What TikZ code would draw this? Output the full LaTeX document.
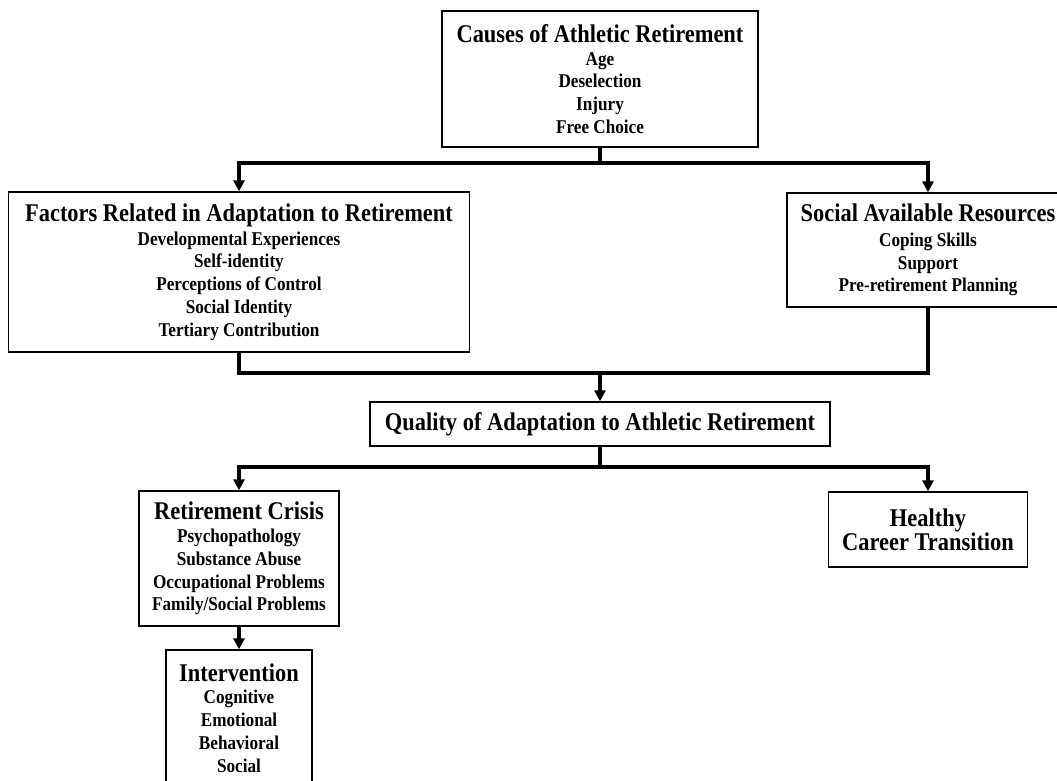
\documentclass[tikz,border=0pt]{standalone}
\usepackage{fontspec}
\setmainfont{Liberation Serif}[FakeStretch=0.88]
\usetikzlibrary{arrows.meta}
\newcommand{\hd}[1]{{\fontsize{25.5}{22.8}\selectfont #1}}
\tikzset{
  box/.style={draw, rectangle, line width=1.4pt, inner sep=0pt, align=center,
    font=\bfseries\fontsize{19.5}{22.8}\selectfont},
  bigbox/.style={box, font=\bfseries\fontsize{25.5}{22.8}\selectfont},
  conn/.style={line width=3.5pt},
  arr/.style={conn, -{Triangle[width=11pt,length=11pt]}}
}
\begin{document}
\begin{tikzpicture}[x=1pt,y=-1pt]
\useasboundingbox (0,0) rectangle (1057,780);

% boxes
\node[box, minimum width=316pt, minimum height=136pt] (causes) at (600,79)
  {\hd{Causes of Athletic Retirement}\\Age\\Deselection\\Injury\\Free Choice};
\node[box, minimum width=461pt, minimum height=160pt] (factors) at (239,272)
  {\hd{Factors Related in Adaptation to Retirement}\\[1pt]Developmental Experiences\\Self-identity\\Perceptions of Control\\Social Identity\\Tertiary Contribution};
\node[box, minimum width=282pt, minimum height=114pt] (social) at (928,250)
  {\hd{Social Available Resources}\\[2pt]Coping Skills\\Support\\Pre-retirement Planning};
\node[bigbox, minimum width=460pt, minimum height=44pt] (quality) at (600,424)
  {Quality of Adaptation to Athletic Retirement};
\node[box, minimum width=200pt, minimum height=135pt] (crisis) at (239,558.5)
  {\hd{Retirement Crisis}\\Psychopathology\\Substance Abuse\\Occupational Problems\\Family/Social Problems};
\node[box, minimum width=146pt, minimum height=136pt] (intervention) at (239,718)
  {\hd{Intervention}\\Cognitive\\Emotional\\Behavioral\\Social};
\node[bigbox, minimum width=199pt, minimum height=75pt] (healthy) at (928,529.5)
  {Healthy\\Career Transition};

% junctions of the connector tree
\coordinate (j1) at (600,163);
\coordinate (j2) at (600,373);
\coordinate (j3) at (600,467);

% connectors
\draw[conn] (causes.south) -- (j1);
\draw[arr] (j1) -| (factors.north);
\draw[arr] (j1) -| (social.north);
\draw[conn] (factors.south) |- (j2);
\draw[conn] (social.south) |- (j2);
\draw[arr] (j2) -- (quality.north);
\draw[conn] (quality.south) -- (j3);
\draw[arr] (j3) -| (crisis.north);
\draw[arr] (j3) -| (healthy.north);
\draw[arr] (crisis.south) -- (intervention.north);
\end{tikzpicture}
\end{document}
